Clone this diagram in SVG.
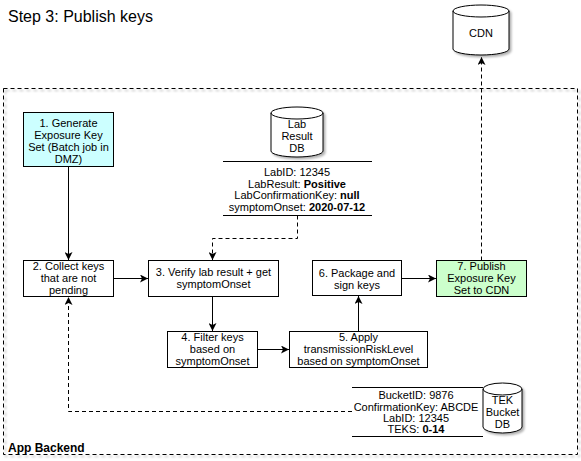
<svg xmlns="http://www.w3.org/2000/svg" width="581" height="461" viewBox="0 0 581 461">
<style>
text{font-family:"Liberation Sans",Arial,sans-serif;font-size:11px;fill:#000}
.c{text-anchor:middle}
.b{font-weight:bold}
.box{stroke:#000;stroke-width:1;fill:#fff}
.cyl{stroke:#000;stroke-width:1;fill:#fff;filter:url(#sh)}
.ln{stroke:#000;stroke-width:1;fill:none}
.e{stroke:#000;stroke-width:1;fill:none}
.d{stroke-dasharray:4,3}
</style>
<defs>
<filter id="sh" x="-10%" y="-10%" width="130%" height="130%">
<feDropShadow dx="2" dy="2" stdDeviation="1" flood-color="#000" flood-opacity="0.3"/>
</filter>
<marker id="a" markerWidth="9" markerHeight="8" refX="8" refY="4" orient="auto" markerUnits="userSpaceOnUse">
<path d="M0,0 L8,4 L0,8 L2,4 z" fill="#000"/>
</marker>
</defs>
<rect width="581" height="461" fill="#fff"/>
<text x="8" y="22" style="font-size:16px">Step 3: Publish keys</text>

<g id="container">
<rect x="3.5" y="88.5" width="574" height="366" fill="none" stroke="#000" stroke-dasharray="4,3" filter="url(#sh)"/>
<text x="8" y="452" class="b" style="font-size:12px">App Backend</text>
</g>

<g id="cdn">
<path class="cyl" d="M453,11 a28,6 0 0 1 56,0 v38 a28,6 0 0 1 -56,0 z"/>
<path class="ln" d="M453,11 a28,6 0 0 0 56,0"/>
<text x="481" y="37" class="c">CDN</text>
</g>

<g id="n1">
<rect class="box" x="23.5" y="112.5" width="90" height="54" style="fill:#ccffff"/>
<text x="68.5" y="127" class="c">1. Generate</text>
<text x="68.5" y="139" class="c">Exposure Key</text>
<text x="68.5" y="151" class="c">Set (Batch job in</text>
<text x="68.5" y="163" class="c">DMZ)</text>
</g>

<g id="n2">
<rect class="box" x="23.5" y="260.5" width="90" height="36"/>
<text x="68.5" y="270" class="c">2. Collect keys</text>
<text x="68.5" y="282" class="c">that are not</text>
<text x="68.5" y="294" class="c">pending</text>
</g>

<g id="n3">
<rect class="box" x="148.5" y="260.5" width="130" height="36"/>
<text x="213.5" y="276" class="c">3. Verify lab result + get</text>
<text x="213.5" y="288" class="c">symptomOnset</text>
</g>

<g id="n4">
<rect class="box" x="167.5" y="331.5" width="90" height="36"/>
<text x="212.5" y="341" class="c">4. Filter keys</text>
<text x="212.5" y="353" class="c">based on</text>
<text x="212.5" y="365" class="c">symptomOnset</text>
</g>

<g id="n5">
<rect class="box" x="289.5" y="331.5" width="138" height="36"/>
<text x="358.5" y="341" class="c">5. Apply</text>
<text x="358.5" y="353" class="c">transmissionRiskLevel</text>
<text x="358.5" y="365" class="c">based on symptomOnset</text>
</g>

<g id="n6">
<rect class="box" x="312.5" y="260.5" width="89" height="35"/>
<text x="357" y="277" class="c">6. Package and</text>
<text x="357" y="289" class="c">sign keys</text>
</g>

<g id="n7">
<rect class="box" x="436.5" y="260.5" width="90" height="36" style="fill:#ccffcc"/>
<text x="481.5" y="270" class="c">7. Publish</text>
<text x="481.5" y="282" class="c">Exposure Key</text>
<text x="481.5" y="294" class="c">Set to CDN</text>
</g>

<g id="labdb">
<path class="cyl" d="M271,113 a26,6 0 0 1 52,0 v38 a26,6 0 0 1 -52,0 z"/>
<path class="ln" d="M271,113 a26,6 0 0 0 52,0"/>
<text x="297" y="128" class="c">Lab</text>
<text x="297" y="140" class="c">Result</text>
<text x="297" y="152" class="c">DB</text>
</g>

<g id="labtable">
<line class="ln" x1="223" y1="161.5" x2="372" y2="161.5"/>
<line class="ln" x1="223" y1="215.5" x2="372" y2="215.5"/>
<text x="297" y="176" class="c">LabID: 12345</text>
<text x="297" y="187.5" class="c">LabResult: <tspan class="b">Positive</tspan></text>
<text x="297" y="199" class="c">LabConfirmationKey: <tspan class="b">null</tspan></text>
<text x="297" y="211" class="c">symptomOnset: <tspan class="b">2020-07-12</tspan></text>
</g>

<g id="tekdb">
<path class="cyl" d="M483,389 a19.5,6 0 0 1 39,0 v38 a19.5,6 0 0 1 -39,0 z"/>
<path class="ln" d="M483,389 a19.5,6 0 0 0 39,0"/>
<text x="502.5" y="404" class="c">TEK</text>
<text x="502.5" y="416" class="c">Bucket</text>
<text x="502.5" y="428" class="c">DB</text>
</g>

<g id="tektable">
<line class="ln" x1="352" y1="387.5" x2="483" y2="387.5"/>
<line class="ln" x1="352" y1="436.5" x2="483" y2="436.5"/>
<text x="416" y="399" class="c">BucketID: 9876</text>
<text x="416" y="411" class="c">ConfirmationKey: ABCDE</text>
<text x="416" y="422" class="c">LabID: 12345</text>
<text x="416" y="433" class="c">TEKS: <tspan class="b">0-14</tspan></text>
</g>

<g id="connectors">
<path class="e" d="M68.5,166.5 V260" marker-end="url(#a)"/>
<path class="e" d="M113.5,278.5 H148" marker-end="url(#a)"/>
<path class="e" d="M212.5,296.5 V331" marker-end="url(#a)"/>
<path class="e" d="M257.5,349.5 H289" marker-end="url(#a)"/>
<path class="e" d="M358.5,331.5 V296" marker-end="url(#a)"/>
<path class="e" d="M401.5,278.5 H436" marker-end="url(#a)"/>
<path class="e d" d="M481.5,260.5 V57" marker-end="url(#a)"/>
<path class="e d" d="M297.5,215.5 V238.5 H212.5 V260" marker-end="url(#a)"/>
<path class="e d" d="M352,411.5 H68.5 V297" marker-end="url(#a)"/>
</g>
</svg>
